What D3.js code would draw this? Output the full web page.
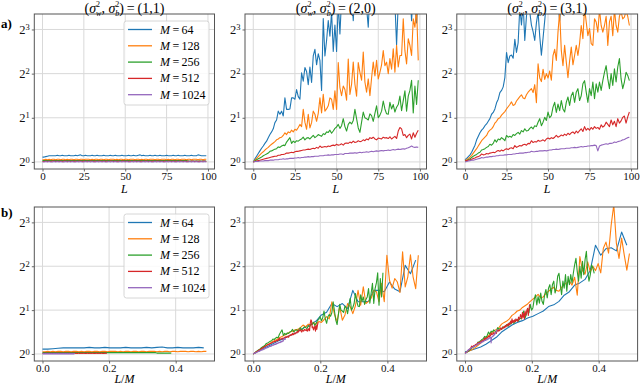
<!DOCTYPE html>
<html>
<head>
<meta charset="utf-8">
<script src="https://cdn.jsdelivr.net/npm/d3@7"></script>
<style>
  body { margin: 0; background: #fff; }
  svg text { font-family: "Liberation Serif", "Times New Roman", "DejaVu Serif", serif; }
</style>
</head>
<body>
<svg id="chart" width="640" height="386"></svg>
<script>
// ---- data (log2 of the measured ratio, one value per depth L = 0..99) ----
var mValues = [64, 128, 256, 512, 1024];
var colors = ["#1f77b4", "#ff7f0e", "#2ca02c", "#d62728", "#9467bd"];
var configs = [["1", "1"], ["2", "0"], ["3", "1"]];
var xTicksTop = [0, 25, 50, 75, 100];
var xTicksBottom = [0.0, 0.2, 0.4];
var yTickExps = [0, 1, 2, 3];

// (sw2, sb2) = (1,1)
var s11_m64 = [0.11,0.11,0.12,0.13,0.14,0.14,0.14,0.14,0.14,0.15, 0.14,0.14,0.15,0.14,0.14,0.14,0.15,0.14,0.14,0.14,
  0.15,0.14,0.15,0.16,0.14,0.14,0.15,0.14,0.14,0.14, 0.15,0.14,0.14,0.15,0.14,0.14,0.14,0.15,0.14,0.14,
  0.14,0.15,0.14,0.14,0.15,0.14,0.14,0.14,0.15,0.14, 0.14,0.14,0.15,0.14,0.14,0.15,0.14,0.14,0.15,0.16,
  0.14,0.15,0.14,0.14,0.14,0.15,0.14,0.14,0.15,0.14, 0.14,0.15,0.14,0.14,0.14,0.15,0.14,0.14,0.14,0.15,
  0.14,0.14,0.15,0.14,0.14,0.14,0.15,0.14,0.14,0.14, 0.15,0.14,0.14,0.14,0.16,0.15,0.14,0.14,0.14,0.14];
var s11_m128 = [0.05,0.05,0.06,0.05,0.06,0.05,0.06,0.06,0.05,0.06, 0.06,0.05,0.06,0.06,0.05,0.06,0.05,0.06,0.06,0.05,
  0.06,0.06,0.05,0.06,0.06,0.05,0.06,0.06,0.06,0.05, 0.06,0.05,0.06,0.06,0.05,0.06,0.06,0.05,0.06,0.06,
  0.05,0.06,0.06,0.06,0.05,0.06,0.05,0.06,0.06,0.05, 0.06,0.06,0.05,0.06,0.06,0.06,0.05,0.06,0.06,0.05,
  0.06,0.05,0.06,0.06,0.05,0.06,0.06,0.06,0.05,0.06, 0.06,0.05,0.06,0.06,0.06,0.05,0.06,0.05,0.06,0.06,
  0.05,0.06,0.06,0.05,0.06,0.06,0.06,0.05,0.06,0.06, 0.05,0.06,0.06,0.06,0.05,0.06,0.06,0.05,0.06,0.06];
var s11_m256 = [0.03,0.03,0.03,0.03,0.03,0.03,0.03,0.03,0.03,0.03, 0.03,0.03,0.03,0.03,0.03,0.03,0.03,0.03,0.03,0.03,
  0.03,0.03,0.03,0.03,0.03,0.03,0.03,0.03,0.03,0.03, 0.03,0.03,0.03,0.03,0.03,0.03,0.03,0.03,0.03,0.03,
  0.03,0.03,0.03,0.03,0.03,0.03,0.03,0.03,0.03,0.03, 0.03,0.03,0.03,0.03,0.03,0.03,0.03,0.03,0.03,0.03,
  0.03,0.03,0.03,0.03,0.03,0.03,0.03,0.03,0.03,0.03, 0.03,0.03,0.03,0.03,0.03,0.03,0.03,0.03,0.03,0.03,
  0.03,0.03,0.03,0.03,0.03,0.03,0.03,0.03,0.02,0.02, 0.02,0.02,0.02,0.02,0.02,0.02,0.02,0.02,0.02,0.02];
var s11_m512 = [0.01,0.01,0.02,0.01,0.02,0.01,0.02,0.02,0.01,0.02, 0.01,0.02,0.01,0.02,0.02,0.01,0.02,0.01,0.02,0.01,
  0.02,0.01,0.02,0.02,0.01,0.02,0.01,0.02,0.01,0.02, 0.02,0.01,0.02,0.01,0.02,0.02,0.01,0.02,0.01,0.02,
  0.01,0.02,0.02,0.01,0.02,0.01,0.02,0.01,0.02,0.02, 0.01,0.02,0.01,0.02,0.01,0.02,0.02,0.01,0.02,0.01,
  0.02,0.01,0.02,0.02,0.01,0.02,0.01,0.02,0.01,0.02, 0.02,0.01,0.02,0.01,0.02,0.01,0.02,0.02,0.01,0.02,
  0.01,0.02,0.01,0.02,0.02,0.01,0.02,0.01,0.02,0.01, 0.02,0.02,0.01,0.02,0.01,0.02,0.01,0.02,0.02,0.01];
var s11_m1024 = [0.00,0.00,0.01,0.00,0.01,0.00,0.00,0.01,0.00,0.01, 0.00,0.01,0.00,0.00,0.01,0.00,0.01,0.00,0.01,0.00,
  0.00,0.01,0.00,0.01,0.00,0.00,0.01,0.00,0.01,0.00, 0.01,0.00,0.00,0.01,0.00,0.01,0.00,0.01,0.00,0.00,
  0.01,0.00,0.01,0.00,0.01,0.00,0.00,0.01,0.00,0.01, 0.00,0.01,0.00,0.00,0.01,0.00,0.01,0.00,0.01,0.00,
  0.00,0.01,0.00,0.01,0.00,0.01,0.00,0.00,0.01,0.00, 0.01,0.00,0.01,0.00,0.00,0.01,0.00,0.01,0.00,0.01,
  0.00,0.00,0.01,0.00,0.01,0.00,0.01,0.00,0.00,0.01, 0.00,0.01,0.00,0.01,0.00,0.00,0.01,0.00,0.01,0.00];

// (sw2, sb2) = (2,0)
var s20_m64 = [0.00,0.07,0.13,0.19,0.25,0.31,0.36,0.42,0.47,0.55, 0.62,0.68,0.75,0.89,0.95,1.15,1.08,1.15,1.04,1.45,
  1.19,1.19,1.20,1.45,1.45,1.42,1.64,1.48,1.42,2.02, 1.83,2.14,2.05,1.75,2.15,1.80,2.40,2.55,2.20,2.45,
  2.30,1.62,3.25,2.40,2.75,3.20,2.85,3.40,2.50,3.10, 2.50,3.60,2.90,3.70,3.50,3.80,3.60,3.90,3.70,3.80,
  3.20,3.90,3.70,3.80,4.00,3.90,3.70,3.80,3.50,3.05, 3.90,3.70,4.00,3.80,3.90,4.10,3.70,3.90,4.00,3.80,
  3.90,4.10,3.80,3.70,3.90,3.60,2.65,3.60,3.90,4.00, 3.70,4.10,3.80,3.70,3.90,3.20,3.90,3.60,3.15,3.80];
var s20_m128 = [0.00,0.04,0.08,0.12,0.16,0.20,0.23,0.27,0.30,0.33, 0.37,0.40,0.43,0.46,0.50,0.52,0.55,0.56,0.60,0.66,
  0.62,0.68,0.66,0.72,0.68,0.74,0.72,0.78,0.85,0.80, 1.19,0.90,0.74,1.08,0.77,0.89,1.15,1.08,0.92,1.10,
  1.45,1.11,1.53,1.15,1.20,1.27,1.45,1.42,1.19,1.61, 1.19,2.25,1.68,1.50,1.72,1.64,1.40,2.33,1.53,1.76,
  2.26,1.76,1.49,2.25,2.03,1.85,2.49,1.81,1.58,1.88, 1.50,1.90,2.26,1.95,2.30,1.88,2.03,2.20,2.52,2.18,
  2.26,2.00,2.34,2.10,2.56,2.03,2.64,2.15,2.41,2.41, 3.24,2.52,2.22,2.79,2.64,2.41,3.24,3.05,3.50,2.30];
var s20_m256 = [0.00,0.02,0.05,0.07,0.09,0.11,0.14,0.16,0.18,0.20, 0.24,0.25,0.27,0.29,0.30,0.34,0.33,0.36,0.38,0.37,
  0.45,0.50,0.55,0.42,0.47,0.44,0.48,0.47,0.50,0.52, 0.56,0.50,0.54,0.55,0.52,0.56,0.60,0.55,0.58,0.62,
  0.60,0.58,0.64,0.62,0.68,0.67,0.72,0.65,0.70,0.76, 0.79,0.85,0.76,0.82,0.98,0.80,0.70,0.85,0.90,0.86,
  0.94,1.19,0.98,0.77,0.67,0.90,1.13,1.00,0.98,0.95, 1.09,1.05,0.92,1.10,1.27,1.00,1.06,1.15,1.38,1.20,
  1.09,1.08,1.35,1.20,1.30,1.13,1.24,1.30,1.49,1.16, 1.39,1.61,1.15,1.49,1.62,1.85,1.11,1.72,1.30,1.85];
var s20_m512 = [0.00,0.01,0.02,0.03,0.04,0.05,0.06,0.07,0.08,0.09, 0.10,0.11,0.12,0.13,0.13,0.15,0.15,0.17,0.17,0.18,
  0.20,0.20,0.21,0.22,0.21,0.23,0.24,0.24,0.25,0.26, 0.27,0.27,0.28,0.29,0.28,0.30,0.31,0.30,0.33,0.31,
  0.36,0.33,0.34,0.35,0.34,0.36,0.35,0.37,0.38,0.37, 0.40,0.38,0.39,0.41,0.38,0.42,0.43,0.42,0.45,0.43,
  0.47,0.44,0.45,0.48,0.46,0.47,0.50,0.48,0.52,0.50, 0.55,0.53,0.56,0.52,0.50,0.54,0.53,0.52,0.56,0.54,
  0.55,0.53,0.57,0.52,0.55,0.58,0.53,0.70,0.78,0.75, 0.60,0.62,0.55,0.60,0.63,0.52,0.66,0.56,0.65,0.72];
var s20_m1024 = [0.00,0.01,0.01,0.01,0.02,0.02,0.02,0.03,0.03,0.03, 0.04,0.04,0.04,0.05,0.05,0.05,0.06,0.06,0.07,0.06,
  0.07,0.07,0.08,0.08,0.08,0.09,0.09,0.10,0.09,0.10, 0.10,0.11,0.11,0.12,0.11,0.12,0.12,0.13,0.13,0.13,
  0.14,0.14,0.14,0.15,0.15,0.16,0.15,0.16,0.16,0.17, 0.17,0.17,0.18,0.18,0.17,0.19,0.19,0.19,0.20,0.20,
  0.20,0.21,0.20,0.21,0.22,0.21,0.22,0.22,0.23,0.22, 0.23,0.24,0.23,0.24,0.25,0.24,0.25,0.26,0.25,0.26,
  0.26,0.27,0.26,0.27,0.28,0.27,0.28,0.29,0.28,0.29, 0.30,0.29,0.31,0.32,0.34,0.36,0.34,0.33,0.34,0.33];

// (sw2, sb2) = (3,1)
var s31_m64 = [0.05,0.08,0.12,0.16,0.22,0.30,0.38,0.50,0.58,0.66, 0.72,0.76,0.82,0.86,0.92,0.98,1.08,1.12,1.20,1.34,
  1.42,1.57,1.62,1.70,1.91,2.48,2.25,2.40,2.42,2.35, 2.78,2.48,2.70,3.50,3.10,3.60,2.75,3.30,3.60,3.40,
  3.10,2.95,2.75,3.15,3.40,2.85,2.42,2.80,3.20,3.60, 3.80,4.00,3.90,4.20,3.70,3.50,3.60,3.20,3.60,4.00,
  3.80,4.10,3.70,3.90,4.20,3.80,4.00,3.70,4.10,3.90, 4.20,3.80,4.00,4.10,3.90,4.20,3.80,4.00,4.30,3.90,
  4.10,4.00,3.80,4.20,3.90,4.10,4.00,3.80,4.20,4.00, 3.90,4.10,4.30,3.90,4.00,4.20,3.80,4.10,4.00,4.20];
var s31_m128 = [0.03,0.05,0.08,0.11,0.15,0.20,0.25,0.30,0.36,0.42, 0.48,0.52,0.56,0.60,0.68,0.72,0.75,0.80,0.88,0.92,
  0.98,1.00,1.06,1.10,1.14,1.20,1.25,1.30,1.36,1.28, 1.30,1.38,1.43,1.48,1.52,1.45,1.43,1.52,1.58,1.62,
  1.66,1.57,1.75,1.34,2.22,1.90,1.82,2.10,1.87,2.00, 1.90,2.06,1.85,2.41,2.55,2.30,2.94,3.40,2.52,2.18,
  2.64,2.26,1.91,2.29,2.60,2.20,2.41,2.64,2.41,2.68, 3.09,2.79,3.50,3.17,2.86,3.02,2.68,2.64,3.24,3.17,
  2.94,3.45,3.09,2.94,3.09,3.30,2.64,3.17,3.30,2.86, 3.45,3.09,2.94,3.30,3.40,3.24,3.28,3.42,3.30,3.09];
var s31_m256 = [0.02,0.03,0.05,0.07,0.10,0.13,0.15,0.17,0.20,0.22, 0.27,0.28,0.30,0.33,0.35,0.40,0.38,0.42,0.50,0.45,
  0.52,0.50,0.55,0.52,0.48,0.60,0.56,0.58,0.56,0.62, 0.60,0.64,0.67,0.63,0.71,0.68,0.75,0.70,0.71,0.76,
  0.79,0.75,0.82,0.80,0.90,0.98,0.82,0.90,1.01,0.94, 1.13,1.00,1.05,1.24,1.35,1.12,1.31,1.16,1.39,1.20,
  1.13,1.35,1.47,1.28,1.50,1.58,1.35,1.58,1.66,1.39, 1.50,1.77,1.84,1.58,1.35,1.66,1.50,1.81,1.43,1.77,
  1.58,1.81,1.62,1.84,2.03,2.18,1.88,1.66,2.00,1.73, 2.11,1.81,2.15,2.34,1.88,1.66,1.81,2.03,1.96,1.84];
var s31_m512 = [0.02,0.03,0.04,0.05,0.06,0.08,0.09,0.11,0.12,0.14, 0.18,0.16,0.17,0.19,0.18,0.20,0.21,0.22,0.21,0.24,
  0.26,0.24,0.27,0.25,0.28,0.30,0.28,0.31,0.32,0.30, 0.37,0.33,0.35,0.37,0.36,0.39,0.40,0.38,0.42,0.41,
  0.48,0.44,0.46,0.45,0.49,0.47,0.48,0.50,0.47,0.52, 0.54,0.52,0.55,0.53,0.56,0.60,0.56,0.58,0.61,0.59,
  0.63,0.60,0.65,0.62,0.66,0.68,0.64,0.70,0.66,0.71, 0.75,0.69,0.80,0.72,0.76,0.72,0.78,0.74,0.80,0.76,
  0.78,0.74,0.84,0.79,0.82,0.90,0.85,0.80,0.95,0.84, 0.92,0.80,0.98,0.88,0.93,1.01,1.04,0.88,1.02,1.13];
var s31_m1024 = [0.00,0.01,0.02,0.03,0.04,0.04,0.05,0.06,0.07,0.08, 0.10,0.09,0.10,0.11,0.11,0.12,0.12,0.13,0.13,0.14,
  0.14,0.15,0.15,0.15,0.16,0.16,0.17,0.17,0.17,0.18, 0.18,0.19,0.19,0.20,0.20,0.20,0.21,0.21,0.22,0.22,
  0.24,0.23,0.23,0.24,0.24,0.25,0.25,0.25,0.26,0.25, 0.26,0.27,0.27,0.28,0.28,0.29,0.28,0.29,0.30,0.30,
  0.30,0.31,0.31,0.31,0.32,0.32,0.33,0.32,0.33,0.34, 0.35,0.34,0.35,0.35,0.36,0.36,0.37,0.37,0.38,0.37,
  0.25,0.36,0.38,0.39,0.40,0.41,0.40,0.42,0.42,0.43, 0.45,0.44,0.46,0.47,0.48,0.50,0.51,0.53,0.55,0.56];

var seriesByConfig = [
  [s11_m64, s11_m128, s11_m256, s11_m512, s11_m1024],
  [s20_m64, s20_m128, s20_m256, s20_m512, s20_m1024],
  [s31_m64, s31_m128, s31_m256, s31_m512, s31_m1024]
];

// ---- layout ----
var panelCols = [[34.3, 214.5], [245, 426.5], [456.8, 637.6]];
var panelRows = [[14, 169], [207, 361]];
var yDomain = [0.895, 10.2];
var xDomainTop = [-4.95, 103.95];
var xDomainBottom = [-0.0246, 0.5166];

var svg = d3.select("#chart");

// write a run of text pieces one after another, measuring as we go
function richText(g, x, y, pieces, size, anchor) {
  var t = g.append("g");
  var cx = 0;
  pieces.forEach(function(p) {
    var el = t.append("text").attr("x", cx).attr("y", 0)
      .attr("font-size", size)
      .attr("font-style", p.italic ? "italic" : null)
      .attr("font-weight", p.bold ? "bold" : null)
      .text(p.t);
    cx += el.node().getComputedTextLength();
  });
  var off = anchor === "middle" ? cx / 2 : 0;
  t.attr("transform", "translate(" + (x - off) + "," + y + ")");
  return t;
}

// title "(σ_w^2, σ_b^2) = (a,b)" as one text element, scripts stacked with tspans
function title(x, y, cf) {
  var t = svg.append("text").attr("x", x).attr("y", y)
    .attr("text-anchor", "middle").attr("font-size", 14);
  var scr = 8, back = -scr * 0.5, up = -5.4, down = 8.9;
  t.append("tspan").text("(");
  t.append("tspan").attr("font-style", "italic").text("σ");
  t.append("tspan").attr("font-size", scr).attr("dy", up).text("2");
  t.append("tspan").attr("font-size", scr).attr("font-style", "italic").attr("dx", back).attr("dy", down).text("w");
  t.append("tspan").attr("dy", -(up + down)).text(", ");
  t.append("tspan").attr("font-style", "italic").text("σ");
  t.append("tspan").attr("font-size", scr).attr("dy", up).text("2");
  t.append("tspan").attr("font-size", scr).attr("font-style", "italic").attr("dx", back).attr("dy", down).text("b");
  t.append("tspan").attr("dy", -(up + down)).text(")\u2009=\u2009(" + cf[0] + "," + cf[1] + ")");
}

function drawPanel(c, row) {
  var xr = panelCols[c], yr = panelRows[row];
  var x = d3.scaleLinear().domain(row === 0 ? xDomainTop : xDomainBottom).range(xr);
  var y = d3.scaleLog().base(2).domain(yDomain).range([yr[1], yr[0]]);
  var xTicks = row === 0 ? xTicksTop : xTicksBottom;
  var g = svg.append("g");
  var clipId = "clip" + c + row;

  g.append("clipPath").attr("id", clipId).append("rect")
    .attr("x", xr[0]).attr("y", yr[0]).attr("width", xr[1] - xr[0]).attr("height", yr[1] - yr[0]);

  // grid
  g.selectAll(".gx").data(xTicks).enter().append("line")
    .attr("x1", function(d) { return x(d); }).attr("x2", function(d) { return x(d); })
    .attr("y1", yr[0]).attr("y2", yr[1])
    .attr("stroke", "#d9d9d9").attr("stroke-width", 1);
  g.selectAll(".gy").data(yTickExps).enter().append("line")
    .attr("x1", xr[0]).attr("x2", xr[1])
    .attr("y1", function(d) { return y(Math.pow(2, d)); }).attr("y2", function(d) { return y(Math.pow(2, d)); })
    .attr("stroke", "#d9d9d9").attr("stroke-width", 1);

  var line = d3.line().x(function(p) { return x(p.x); }).y(function(p) { return y(p.y); });
  var plot = g.append("g").attr("clip-path", "url(#" + clipId + ")");
  seriesByConfig[c].forEach(function(vals, i) {
    var M = mValues[i];
    var pts = vals.map(function(v, L) { return { x: row === 0 ? L : L / M, y: Math.pow(2, v) }; });
    if (row === 1) pts = pts.filter(function(p) { return p.x < 0.5; });
    plot.append("path").datum(pts).attr("d", line)
      .attr("fill", "none").attr("stroke", colors[i]).attr("stroke-width", 1.1)
      .attr("stroke-linejoin", "round");
  });

  // axes
  var fmt = row === 0 ? d3.format("d") : d3.format(".1f");
  var xa = g.append("g").attr("transform", "translate(0," + yr[1] + ")")
    .call(d3.axisBottom(x).tickValues(xTicks).tickSize(2.5).tickPadding(0.5).tickFormat(fmt));
  var ya = g.append("g").attr("transform", "translate(" + xr[0] + ",0)")
    .call(d3.axisLeft(y).tickValues(yTickExps.map(function(k) { return Math.pow(2, k); }))
      .tickSize(2.5).tickPadding(2).tickFormat(function() { return ""; }));
  [xa, ya].forEach(function(a) {
    a.attr("font-family", null).attr("font-size", 11);
    a.select(".domain").remove();
    a.selectAll(".tick line").attr("stroke", "#444").attr("stroke-width", 0.8);
    a.selectAll(".tick text").attr("fill", "#111");
  });
  ya.selectAll(".tick text").attr("font-size", 12.5).each(function(d) {
    var t = d3.select(this);
    t.append("tspan").text("2");
    t.append("tspan").attr("dy", "-0.45em").attr("font-size", 8.5).text(Math.round(Math.log2(d)));
  });

  // frame
  g.append("rect").attr("x", xr[0]).attr("y", yr[0])
    .attr("width", xr[1] - xr[0]).attr("height", yr[1] - yr[0])
    .attr("fill", "none").attr("stroke", "#555").attr("stroke-width", 1);

  // axis label
  var mid = (xr[0] + xr[1]) / 2;
  if (row === 0) {
    richText(svg, mid, 192.5, [{ t: "L", italic: true }], 12, "middle");
    title(mid, 12.6, configs[c]);
  } else {
    richText(svg, mid, 383.3, [{ t: "L", italic: true }, { t: "/" }, { t: "M", italic: true }], 12, "middle");
  }

  // legend on the left column
  if (c === 0) {
    var lx = 124, ly = yr[0] + 7;
    var lg = svg.append("g");
    lg.append("rect").attr("x", lx).attr("y", ly).attr("width", 85).attr("height", 84)
      .attr("rx", 2.5).attr("fill", "#fff").attr("fill-opacity", 0.85)
      .attr("stroke", "#cccccc").attr("stroke-width", 0.8);
    mValues.forEach(function(m, i) {
      var ry = ly + 8.5 + i * 16.3;
      lg.append("line").attr("x1", lx + 4).attr("x2", lx + 28).attr("y1", ry).attr("y2", ry)
        .attr("stroke", colors[i]).attr("stroke-width", 1.3);
      richText(lg, lx + 36, ry + 4, [{ t: "M", italic: true }, { t: "\u2009=\u2009" + m }], 12, "start");
    });
  }
}

configs.forEach(function(cf, c) {
  drawPanel(c, 0);
  drawPanel(c, 1);
});

richText(svg, 1, 28, [{ t: "a)", bold: true }], 13, "start");
richText(svg, 1, 217, [{ t: "b)", bold: true }], 13, "start");
</script>
</body>
</html>
